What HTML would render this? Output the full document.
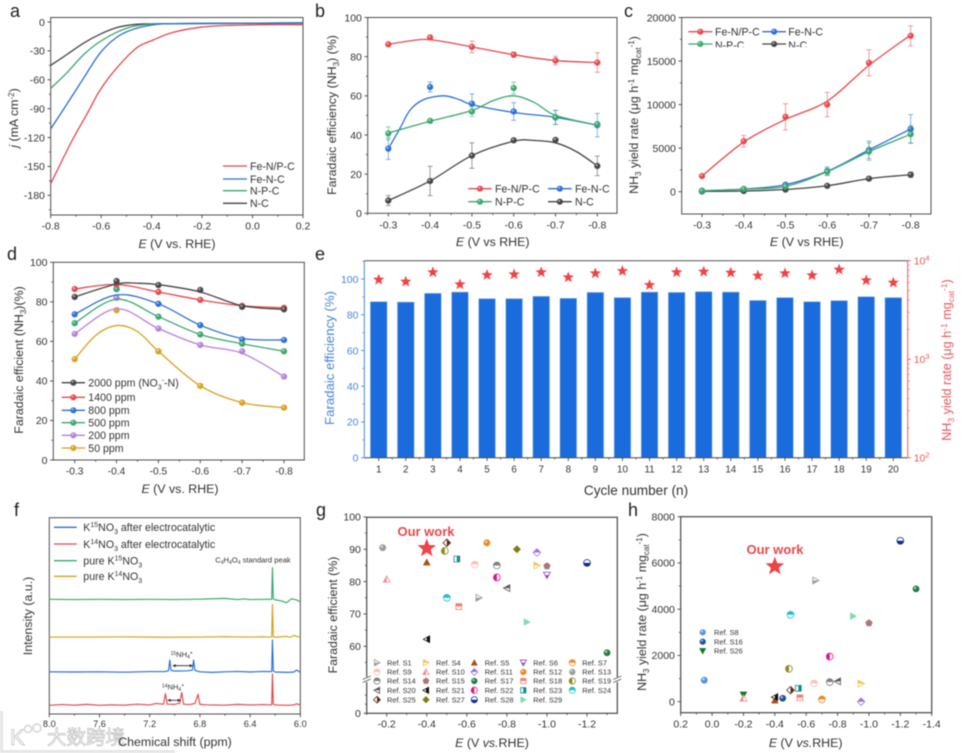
<!DOCTYPE html>
<html lang="en">
<head>
<meta charset="utf-8">
<title>Electrocatalytic nitrate reduction figure</title>
<style>
html,body{margin:0;padding:0;background:#fff;width:963px;height:753px;overflow:hidden}
#figure{display:block;filter:blur(0.55px);font-family:"Liberation Sans","Noto Sans CJK SC",sans-serif}
.letter{font-size:18px;fill:#222}
.ax{font-size:12.4px;fill:#333}
.leg{font-size:10.6px;fill:#333}
.c{text-anchor:middle}
</style>
</head>
<body>
<svg id="figure" xmlns="http://www.w3.org/2000/svg" width="963" height="753" viewBox="0 0 963 753">
  <rect x="0" y="0" width="963" height="753" fill="#fff"/>
  <g id="plots"></g>

  <g>
    <rect x="0" y="711" width="3" height="42" fill="#e6e6e6"/>
    <rect x="0" y="750" width="175" height="3" fill="#e6e6e6"/>
    <text x="10" y="745" font-size="22" fill="#fff" stroke="#c4c4c4" stroke-width="0.8">K</text>
    <circle cx="28" cy="729" r="3.5" fill="none" stroke="#d4d4d4" stroke-width="1.4"/>
    <circle cx="37" cy="728" r="4" fill="none" stroke="#d4d4d4" stroke-width="1.4"/>
    <text x="47" y="744" font-size="19.5" fill="#fff" stroke="#bdbdbd" stroke-width="0.7" font-family="'Noto Sans CJK SC',sans-serif">大数跨境</text>
  </g>

  <g>
    <text class="letter" x="10" y="17">a</text>
    <text class="letter" x="315" y="17">b</text>
    <text class="letter" x="624" y="17">c</text>
    <text class="letter" x="7" y="260">d</text>
    <text class="letter" x="315" y="260">e</text>
    <text class="letter" x="14" y="516">f</text>
    <text class="letter" x="316" y="516">g</text>
    <text class="letter" x="628" y="516">h</text>
  </g>

  <g>
    <text class="ax c" x="177" y="248"><tspan font-style="italic">E</tspan> (V vs. RHE)</text>
    <text class="ax c" transform="translate(18,118) rotate(-90)"><tspan font-style="italic">j</tspan> (mA cm<tspan dy="-4" font-size="8">-2</tspan><tspan dy="4">)</tspan></text>
    <text class="ax c" x="492.7" y="246"><tspan font-style="italic">E</tspan> (V vs RHE)</text>
    <text class="ax c" transform="translate(336,115) rotate(-90)">Faradaic efficiency (NH<tspan dy="3" font-size="8">3</tspan><tspan dy="-3">) (%)</tspan></text>
    <text class="ax c" x="806.7" y="246"><tspan font-style="italic">E</tspan> (V vs RHE)</text>
    <text class="ax c" transform="translate(638,115) rotate(-90)">NH<tspan dy="3" font-size="8">3</tspan><tspan dy="-3"> yield rate (μg h</tspan><tspan dy="-4" font-size="8">-1</tspan><tspan dy="4"> mg</tspan><tspan dy="3" font-size="8">cat</tspan><tspan dy="-7" font-size="8">-1</tspan><tspan dy="4">)</tspan></text>
    <text class="ax c" x="180" y="493"><tspan font-style="italic">E</tspan> (V vs. RHE)</text>
    <text class="ax c" transform="translate(23,360) rotate(-90)">Faradaic efficient (NH<tspan dy="3" font-size="8">3</tspan><tspan dy="-3">)(%)</tspan></text>
    <text class="c" font-size="13.6" fill="#333" x="636" y="495">Cycle number (n)</text>
    <text class="c" font-size="13.2" fill="#4a86d8" transform="translate(334,358) rotate(-90)">Faradaic efficiency (%)</text>
    <text class="c" font-size="12.6" fill="#e8585c" transform="translate(951,360) rotate(-90)">NH<tspan dy="3" font-size="8.5">3</tspan><tspan dy="-3"> yield rate (μg h</tspan><tspan dy="-4" font-size="8.5">-1</tspan><tspan dy="4"> mg</tspan><tspan dy="3" font-size="8.5">cat</tspan><tspan dy="-7" font-size="8.5">-1</tspan><tspan dy="4">)</tspan></text>
    <text class="ax c" transform="translate(32,616) rotate(-90)" font-size="12">Intensity (a.u.)</text>
    <text class="ax c" x="175" y="746">Chemical shift (ppm)</text>
    <text class="ax c" font-size="12" transform="translate(337,615) rotate(-90)">Faradaic efficient (%)</text>
    <text class="ax c" x="492" y="747"><tspan font-style="italic">E</tspan> (V <tspan font-style="italic">vs.</tspan>RHE)</text>
    <text class="ax c" font-size="11.6" transform="translate(646,612) rotate(-90)">NH<tspan dy="3" font-size="8">3</tspan><tspan dy="-3"> yield rate (μg h</tspan><tspan dy="-4" font-size="8">-1</tspan><tspan dy="4"> mg</tspan><tspan dy="3" font-size="8">cat</tspan><tspan dy="-7" font-size="8">-1</tspan><tspan dy="4">)</tspan></text>
    <text class="ax c" x="805.7" y="747"><tspan font-style="italic">E</tspan> (V <tspan font-style="italic">vs.</tspan>RHE)</text>
  </g>

  <g>
    <text class="leg" x="250" y="170">Fe-N/P-C</text>
    <text class="leg" x="250" y="183">Fe-N-C</text>
    <text class="leg" x="250" y="194.5">N-P-C</text>
    <text class="leg" x="250" y="207">N-C</text>

    <text class="leg" x="495" y="192.5">Fe-N/P-C</text>
    <text class="leg" x="575" y="192.5">Fe-N-C</text>
    <text class="leg" x="495" y="205.5">N-P-C</text>
    <text class="leg" x="575" y="205.5">N-C</text>

    <text class="leg" x="715" y="35.5">Fe-N/P-C</text>
    <text class="leg" x="788.3" y="35.5">Fe-N-C</text>
    <text class="leg" x="715" y="49">N-P-C</text>
    <text class="leg" x="788.3" y="49">N-C</text>
    <rect x="684" y="47.3" width="150" height="6" fill="#fff"/>

    <text class="leg" font-size="10.4" x="88.3" y="386.5">2000 ppm (NO<tspan dy="3" font-size="7">3</tspan><tspan dy="-7" font-size="7">-</tspan><tspan dy="4">-N)</tspan></text>
    <text class="leg" x="88.3" y="401">1400 ppm</text>
    <text class="leg" x="88.3" y="414">800 ppm</text>
    <text class="leg" x="88.3" y="426.5">500 ppm</text>
    <text class="leg" x="88.3" y="439">200 ppm</text>
    <text class="leg" x="88.3" y="452">50 ppm</text>

    <text class="leg" x="83.3" y="531">K<tspan dy="-4" font-size="7">15</tspan><tspan dy="4">NO</tspan><tspan dy="3" font-size="7">3</tspan><tspan dy="-3"> after electrocatalytic</tspan></text>
    <text class="leg" x="83.3" y="548">K<tspan dy="-4" font-size="7">14</tspan><tspan dy="4">NO</tspan><tspan dy="3" font-size="7">3</tspan><tspan dy="-3"> after electrocatalytic</tspan></text>
    <text class="leg" x="83.3" y="564.5">pure K<tspan dy="-4" font-size="7">15</tspan><tspan dy="4">NO</tspan><tspan dy="3" font-size="7">3</tspan></text>
    <text class="leg" x="83.3" y="580">pure K<tspan dy="-4" font-size="7">14</tspan><tspan dy="4">NO</tspan><tspan dy="3" font-size="7">3</tspan></text>
    <text class="c" font-size="7.6" fill="#333" x="253" y="562.5">C<tspan dy="1.5" font-size="5">4</tspan><tspan dy="-1.5">H</tspan><tspan dy="1.5" font-size="5">4</tspan><tspan dy="-1.5">O</tspan><tspan dy="1.5" font-size="5">4</tspan><tspan dy="-1.5"> standard peak</tspan></text>
    <text class="c" font-size="7.6" fill="#333" x="181.7" y="657"><tspan dy="-2" font-size="5">15</tspan><tspan dy="2">NH</tspan><tspan dy="1.5" font-size="5">4</tspan><tspan dy="-4" font-size="5">+</tspan></text>
    <text class="c" font-size="7.6" fill="#333" x="173" y="689.5"><tspan dy="-2" font-size="5">14</tspan><tspan dy="2">NH</tspan><tspan dy="1.5" font-size="5">4</tspan><tspan dy="-4" font-size="5">+</tspan></text>

    <text x="426" y="536" font-size="13" font-weight="bold" fill="#e8474c" class="c">Our work</text>
    <text x="775" y="554" font-size="13" font-weight="bold" fill="#e8474c" class="c">Our work</text>
  </g>
</svg>

<script>
/* ---------- panel a: LSV curves ---------- */
const aTicksX = [-0.8, -0.6, -0.4, -0.2, 0.0, 0.2];
const aTicksY = [0, -30, -60, -90, -120, -150, -180];
const aRedE = [-0.8, -0.717, -0.655, -0.605, -0.539, -0.46, -0.394, -0.314, -0.209, -0.1, 0.055, 0.2];
const aRedJ = [-168, -124, -95, -71, -48, -27, -18.7, -10.7, -5.5, -3.5, -2.8, -2.8];
const aBlueE = [-0.8, -0.74, -0.67, -0.605, -0.539, -0.473, -0.394, -0.314, -0.08, 0.2];
const aBlueJ = [-111, -87, -58.5, -32.5, -16, -7.6, -3, -1.7, -1.4, -1];
const aGreenE = [-0.8, -0.737, -0.67, -0.605, -0.539, -0.473, -0.407, -0.314, 0.2];
const aGreenJ = [-69, -53, -34, -20.4, -10.7, -4.5, -2.4, -1.7, -1];
const aBlackE = [-0.8, -0.737, -0.67, -0.605, -0.539, -0.486, -0.433, -0.314, 0.2];
const aBlackJ = [-45, -34, -22, -12.8, -5.9, -3.1, -2, -1.7, -1];

/* ---------- shared potentials ---------- */
const potentials = [-0.3, -0.4, -0.5, -0.6, -0.7, -0.8];
const potentialLabels = ['-0.3', '-0.4', '-0.5', '-0.6', '-0.7', '-0.8'];

/* ---------- panel b: Faradaic efficiency ---------- */
const bTicksY = [0, 20, 40, 60, 80, 100];
const bFeNPC = [86.3, 89.8, 85, 81, 78, 77];
const bFeNPCErr = [0.8, 1, 3, 1.3, 2.2, 5];
const bFeNPCFitE = [-0.3, -0.35, -0.4, -0.5, -0.6, -0.7, -0.8];
const bFeNPCFit = [86.3, 88, 88.7, 85, 81, 78, 77];
const bFeNC = [33, 64.5, 56, 52, 49, 45];
const bFeNCErr = [5.5, 2.5, 5, 4.5, 3.5, 6];
const bFeNCFitE = [-0.3, -0.328, -0.352, -0.384, -0.432, -0.471, -0.5, -0.6, -0.7, -0.8];
const bFeNCFit = [33, 43.4, 52.7, 58, 60, 58, 55.5, 51.5, 49, 45];
const bNPC = [40.8, 47.2, 52, 64, 49, 45.5];
const bNPCErr = [3.3, 1, 2.5, 3, 3.7, 1];
const bNPCFitE = [-0.3, -0.4, -0.5, -0.55, -0.6, -0.65, -0.7, -0.8];
const bNPCFit = [41, 47, 52.5, 57.5, 60, 56.5, 50, 45];
const bNC = [6.5, 16.5, 29.5, 37.3, 37.5, 24.2];
const bNCErr = [2.5, 7.5, 6.5, 0.5, 0.5, 5];
const bNCFitE = [-0.3, -0.4, -0.5, -0.6, -0.65, -0.7, -0.75, -0.8];
const bNCFit = [6.5, 16.5, 29.5, 36.8, 37.2, 36, 31.5, 24.2];

/* ---------- panel c: yield rate ---------- */
const cTicksY = [0, 5000, 10000, 15000, 20000];
const cFeNPC = [1800, 5800, 8600, 10000, 14800, 17900];
const cFeNPCErr = [150, 650, 1500, 1400, 1500, 1150];
const cFeNPCFit = [1800, 5700, 8300, 10400, 14500, 18000];
const cFeNC = [100, 300, 800, 2350, 4800, 7200];
const cFeNCErr = [80, 100, 120, 500, 1000, 1650];
const cNPC = [100, 300, 600, 2300, 4600, 6600];
const cNPCErr = [80, 100, 120, 400, 1000, 1000];
const cNC = [30, 80, 250, 680, 1500, 1950];
const cNCErr = [60, 80, 100, 100, 150, 300];

/* ---------- panel d: concentration series ---------- */
const dTicksY = [0, 20, 40, 60, 80, 100];
const d2000 = [82.5, 90.5, 88.5, 86, 77.5, 76.2];
const d2000FitE = [-0.3, -0.4, -0.45, -0.5, -0.6, -0.7, -0.8];
const d2000Fit = [82.5, 89, 89.4, 88.7, 85, 78, 76.2];
const d1400 = [86.5, 88.8, 85, 81, 78, 77];
const d1400Fit = [86.5, 88.8, 85, 81, 78, 77];
const d800 = [73.7, 86.5, 79, 68.2, 61, 60.7];
const d800Fit = [73.7, 83.5, 79, 68.2, 61.5, 60.7];
const d500 = [69.2, 86.5, 72.5, 63.5, 58.8, 55];
const d500Fit = [69.2, 81.3, 72.5, 63.5, 58.8, 55];
const d200 = [63.8, 82, 66.5, 58.2, 55, 42.2];
const d200Fit = [63.8, 76.5, 66.5, 58.2, 54, 42.2];
const d50 = [51, 75.8, 55, 37.5, 29, 26.5];
const d50FitE = [-0.3, -0.35, -0.4, -0.45, -0.5, -0.6, -0.7, -0.8];
const d50Fit = [51, 63, 68, 65, 55, 37.5, 29, 26.5];

/* ---------- panel e: cycling ---------- */
const eCycles = [1, 2, 3, 4, 5, 6, 7, 8, 9, 10, 11, 12, 13, 14, 15, 16, 17, 18, 19, 20];
const eEfficiency = [87.3, 87.1, 92, 92.7, 89, 89, 90.3, 89.2, 92.5, 89.6, 92.7, 92.5, 92.9, 92.7, 88, 89.6, 87.3, 87.9, 90.1, 89.6];
const eYield = [6410, 6120, 7620, 5750, 7150, 7265, 7620, 6775, 7435, 7855, 5660, 7620, 7730, 7550, 7045, 7435, 7100, 8110, 6310, 5980];
const eTicksLeft = [0, 20, 40, 60, 80, 100];
const eTicksRight = [100, 1000, 10000];
const eExponentLabels = ['2', '3', '4'];

/* ---------- panel f: NMR spectra ---------- */
const fTicksX = [8.0, 7.6, 7.2, 6.8, 6.4, 6.0];
const fGreenPpm = [8, 7.8, 7.6, 7.4, 7.2, 7, 6.8, 6.6, 6.5, 6.45, 6.4, 6.3, 6.24, 6.228, 6.222, 6.215, 6.2, 6.15, 6.11, 6.07, 6.03, 6];
const fGreenVal = [58.4, 58.3, 58.4, 58.3, 58.4, 58.3, 58.5, 58.9, 58.3, 58.6, 58.3, 58.4, 58.4, 58.4, 74.5, 58.6, 58.2, 57.6, 56.7, 58.7, 58.1, 57.2];
const fGoldPpm = [8, 7.7, 7.4, 7.1, 6.8, 6.6, 6.4, 6.3, 6.24, 6.228, 6.222, 6.215, 6.2, 6.11, 6.08, 6.05, 6.02, 6];
const fGoldVal = [39.2, 39.2, 39.3, 39.1, 39.2, 39.4, 39.2, 39.3, 39.2, 39.3, 55.9, 39.4, 39.1, 39.6, 39.1, 40, 39.4, 39.2];
const fBluePpm = [8, 7.8, 7.6, 7.4, 7.2, 7.08, 7.05, 7.04, 7.03, 7, 6.9, 6.86, 6.85, 6.84, 6.8, 6.7, 6.6, 6.5, 6.4, 6.3, 6.24, 6.228, 6.222, 6.215, 6.2, 6.1, 6.05, 6.03, 6];
const fBlueVal = [21.5, 21.4, 21.5, 21.3, 21.6, 21.6, 22, 27.5, 22.2, 21.9, 22, 22.4, 27.5, 22.2, 21.5, 21.2, 21.5, 21.7, 21.4, 21.7, 21.6, 21.6, 37.7, 21.9, 21.4, 21.2, 21.4, 22.4, 21.2];
const fRedPpm = [8, 7.9, 7.8, 7.7, 7.6, 7.5, 7.4, 7.3, 7.2, 7.15, 7.09, 7.075, 7.06, 7, 6.96, 6.945, 6.93, 6.88, 6.84, 6.815, 6.8, 6.75, 6.6, 6.5, 6.4, 6.3, 6.24, 6.228, 6.222, 6.215, 6.2, 6.1, 6.05, 6.03, 6];
const fRedVal = [4.4, 4.8, 4.5, 4.9, 4.4, 4.7, 4.5, 5, 4.6, 5.4, 5, 10.4, 5, 4.9, 5.6, 11, 5, 4.8, 5.4, 10, 4.9, 4.7, 4.5, 4.9, 4.6, 4.8, 4.7, 4.7, 20.4, 5, 4.6, 4.4, 4.6, 5.2, 4.6];

/* ---------- panels g / h: literature comparison ---------- */
const refLabels = {S1:'Ref. S1',S4:'Ref. S4',S5:'Ref. S5',S6:'Ref. S6',S7:'Ref. S7',S8:'Ref. S8',S9:'Ref. S9',S10:'Ref. S10',S11:'Ref. S11',S12:'Ref. S12',S13:'Ref. S13',S14:'Ref. S14',S15:'Ref. S15',S16:'Ref. S16',S17:'Ref. S17',S18:'Ref. S18',S19:'Ref. S19',S20:'Ref. S20',S21:'Ref. S21',S22:'Ref. S22',S23:'Ref. S23',S24:'Ref. S24',S25:'Ref. S25',S26:'Ref. S26',S27:'Ref. S27',S28:'Ref. S28',S29:'Ref. S29'};
const gLegendOrder = ['S1','S4','S5','S6','S7','S9','S10','S11','S12','S13','S14','S15','S17','S18','S19','S20','S21','S22','S23','S24','S25','S27','S28','S29'];
const hLegendOrder = ['S8','S16','S26'];
const gRefs = ['S1','S4','S5','S6','S9','S10','S11','S12','S13','S14','S15','S17','S18','S19','S20','S21','S22','S23','S24','S25','S27','S28','S29'];
const gE = [-0.66,-0.95,-0.4,-1.0,-0.64,-0.2,-0.95,-0.7,-0.18,-0.75,-1.0,-1.3,-0.56,-0.49,-0.8,-0.4,-0.75,-0.55,-0.5,-0.5,-0.85,-1.2,-0.9];
const gFE = [75,85,86,82,85.3,80.7,89,92,90.5,85,84.8,58,72.3,89.5,78,62.2,81.3,87,75,92,90,85.8,67.5];
const gOurE = -0.4;
const gOurFE = 90.3;
const gTicksY = [0, 60, 70, 80, 90, 100];
const gTicksX = [-0.2, -0.4, -0.6, -0.8, -1.0, -1.2];
const hRefs = ['S8','S16','S26','S10','S5','S21','S25','S23','S18','S9','S7','S14','S20','S4','S11','S19','S22','S24','S29','S15','S1','S17','S28'];
const hE = [0.05,-0.45,-0.2,-0.2,-0.4,-0.4,-0.5,-0.55,-0.56,-0.65,-0.7,-0.75,-0.8,-0.95,-0.95,-0.49,-0.75,-0.5,-0.9,-1.0,-0.66,-1.3,-1.2];
const hRate = [930,150,300,150,60,200,500,580,170,790,100,850,880,780,0,1420,1950,3760,3700,3400,5240,4880,6960];
const hOurE = -0.4;
const hOurRate = 5850;
const hTicksY = [0, 2000, 4000, 6000, 8000];
const hTicksX = [0.2, 0.0, -0.2, -0.4, -0.6, -0.8, -1.0, -1.2, -1.4];

/* ---------- colours and marker styles ---------- */
const RED = '#e4484c', BLUE = '#2a6fd4', GREEN = '#3aa76d', BLACK = '#454545', PURPLE = '#b57fe0', GOLD = '#d9a01e';
const refStyle = {
  S1:['right','bottom','#9a9a9a'],S4:['right','top','#f2c14e'],S5:['up','full','#a8520f'],S6:['down','bottom','#8a3fc0'],
  S7:['circle','top','#f08a24'],S8:['ball','full','#4f93e8'],S9:['circle','top','#f7c4b8'],S10:['up','left','#f08d8d'],
  S11:['diamond','top','#a56fd8'],S12:['ball','full','#f0851a'],S13:['ball','full','#9a9a9a'],S14:['circle','top','#808080'],
  S15:['pentagon','full','#a9787c'],S16:['ball','full','#1c4f9c'],S17:['ball','full','#1f7a45'],S18:['square','top','#f08070'],
  S19:['circle','left','#8f8a1e'],S20:['left','top','#555555'],S21:['left','right','#111111'],S22:['circle','left','#e3128a'],
  S23:['square','right','#128a8a'],S24:['circle','top','#18c0d0'],S25:['diamond','right','#5a2a1a'],S26:['down','full','#0d7a24'],
  S27:['diamond','full','#7d7d10'],S28:['circle','bottom','#0e2f8a'],S29:['right','full','#7fdcae']
};

/* ---------- helpers ---------- */
const NS = 'http://www.w3.org/2000/svg';
const root = document.getElementById('plots');
function mk(parent, tag, attrs, name) {
  const el = document.createElementNS(NS, tag);
  for (const k in attrs) el.setAttribute(k, attrs[k]);
  
  
  parent.appendChild(el);
  return el;
}
function lin(d0, d1, r0, r1) { return v => r0 + (v - d0) * (r1 - r0) / (d1 - d0); }
function smooth(xs, ys) {
  let d = 'M' + xs[0].toFixed(2) + ' ' + ys[0].toFixed(2);
  for (let i = 0; i < xs.length - 1; i++) {
    const i0 = Math.max(0, i - 1), i3 = Math.min(xs.length - 1, i + 2);
    const c1x = xs[i] + (xs[i + 1] - xs[i0]) / 6, c1y = ys[i] + (ys[i + 1] - ys[i0]) / 6;
    const c2x = xs[i + 1] - (xs[i3] - xs[i]) / 6, c2y = ys[i + 1] - (ys[i3] - ys[i]) / 6;
    d += 'C' + [c1x, c1y, c2x, c2y, xs[i + 1], ys[i + 1]].map(n => n.toFixed(2)).join(' ');
  }
  return d;
}
function poly(xs, ys) { return 'M' + xs.map((x, i) => x.toFixed(2) + ' ' + ys[i].toFixed(2)).join('L'); }
function line(g, x1, y1, x2, y2, stroke, w, name) {
  return mk(g, 'line', {x1: x1, y1: y1, x2: x2, y2: y2, stroke: stroke, 'stroke-width': w}, name);
}
function label(g, x, y, str, anchor, size, fill, name) {
  const t = mk(g, 'text', {x: x, y: y, 'text-anchor': anchor, 'font-size': size, fill: fill}, name);
  t.textContent = str;
  return t;
}
function frame(g, f, name, color, w) {
  mk(g, 'rect', {x: f.l, y: f.t, width: f.r - f.l, height: f.b - f.t, fill: 'none', stroke: color || '#4d4d4d', 'stroke-width': w || 1}, name);
}
function xTicks(g, f, sx, vals, labels, minors, base, size, prefix) {
  vals.forEach((v, i) => {
    line(g, sx(v), f.b, sx(v), f.b + 3.2, '#444', 0.9, prefix + '-x-tick');
    label(g, sx(v), base, labels[i], 'middle', size, '#333', prefix + '-x-tick-label');
  });
  minors.forEach(v => line(g, sx(v), f.b, sx(v), f.b + 1.8, '#444', 0.8, prefix + '-x-minor-tick'));
}
function yTicks(g, f, sy, vals, labels, minors, size, prefix, color) {
  const c = color || '#333';
  vals.forEach((v, i) => {
    line(g, f.l - 3.2, sy(v), f.l, sy(v), color || '#444', 0.9, prefix + '-y-tick');
    label(g, f.l - 5.8, sy(v) + size * 0.36, labels[i], 'end', size, c, prefix + '-y-tick-label');
  });
  minors.forEach(v => line(g, f.l - 1.8, sy(v), f.l, sy(v), color || '#444', 0.8, prefix + '-y-minor-tick'));
}
function ball(g, x, y, r, color, name) {
  const b = mk(g, 'g', {}, name);
  mk(b, 'circle', {cx: x, cy: y, r: r, fill: color, stroke: color, 'stroke-opacity': 0.55, 'stroke-width': 0.8}, name + '-body');
  mk(b, 'circle', {cx: x - r * 0.25, cy: y - r * 0.3, r: r * 0.38, fill: '#fff', 'fill-opacity': 0.55}, name + '-highlight');
  return b;
}
function seriesPlot(g, sx, sy, prefix, color, E, vals, errs, fitE, fitVals) {
  const grp = mk(g, 'g', {}, prefix + '-series');
  mk(grp, 'path', {d: smooth(fitE.map(sx), fitVals.map(sy)), fill: 'none', stroke: color, 'stroke-width': 1.3}, prefix + '-line');
  E.forEach((e, i) => {
    const x = sx(e);
    if (errs) {
      const y0 = sy(vals[i] - errs[i]), y1 = sy(vals[i] + errs[i]);
      line(grp, x, y0, x, y1, color, 0.8, prefix + '-error-bar').setAttribute('stroke-opacity', 0.65);
      line(grp, x - 2.5, y0, x + 2.5, y0, color, 0.8, prefix + '-error-cap').setAttribute('stroke-opacity', 0.65);
      line(grp, x - 2.5, y1, x + 2.5, y1, color, 0.8, prefix + '-error-cap').setAttribute('stroke-opacity', 0.65);
    }
    ball(grp, x, sy(vals[i]), 2.9, color, prefix + '-point');
  });
}
function legendKey(g, x0, x1, y, color, withBall, name) {
  line(g, x0, y, x1, y, color, 1.3, name + '-line');
  if (withBall) ball(g, (x0 + x1) / 2, y, 2.8, color, name + '-marker');
}
function starPath(r) {
  let d = '';
  for (let i = 0; i < 10; i++) {
    const a = -Math.PI / 2 + i * Math.PI / 5, rr = i % 2 ? r * 0.42 : r;
    d += (i ? 'L' : 'M') + (rr * Math.cos(a)).toFixed(2) + ' ' + (rr * Math.sin(a)).toFixed(2);
  }
  return d + 'Z';
}
function star(g, x, y, r, name) {
  return mk(g, 'path', {d: starPath(r), transform: 'translate(' + x + ',' + y + ')', fill: '#ee4347'}, name);
}
function shapePath(type, r) {
  const p = (pts) => 'M' + pts.map(q => q[0].toFixed(2) + ' ' + q[1].toFixed(2)).join('L') + 'Z';
  if (type === 'right') return p([[-r * 0.85, -r], [r, 0], [-r * 0.85, r]]);
  if (type === 'left') return p([[r * 0.85, -r], [-r, 0], [r * 0.85, r]]);
  if (type === 'up') return p([[0, -r], [r, r * 0.85], [-r, r * 0.85]]);
  if (type === 'down') return p([[0, r], [r, -r * 0.85], [-r, -r * 0.85]]);
  if (type === 'diamond') return p([[0, -r * 1.1], [r * 1.1, 0], [0, r * 1.1], [-r * 1.1, 0]]);
  if (type === 'square') return p([[-r * 0.85, -r * 0.85], [r * 0.85, -r * 0.85], [r * 0.85, r * 0.85], [-r * 0.85, r * 0.85]]);
  if (type === 'pentagon') {
    const pts = [];
    for (let i = 0; i < 5; i++) pts.push([r * 1.05 * Math.cos(-Math.PI / 2 + i * 2 * Math.PI / 5), r * 1.05 * Math.sin(-Math.PI / 2 + i * 2 * Math.PI / 5)]);
    return p(pts);
  }
  return 'M' + (-r) + ' 0A' + r + ' ' + r + ' 0 1 1 ' + r + ' 0A' + r + ' ' + r + ' 0 1 1 ' + (-r) + ' 0Z';
}
const defs = mk(root, 'defs', {}, 'half-fill-clips');
const clipRects = {top: [-10, -10, 20, 10], bottom: [-10, 0, 20, 10], left: [-10, -10, 10, 20], right: [0, -10, 10, 20]};
for (const k in clipRects) {
  const cp = mk(defs, 'clipPath', {id: 'half-' + k}, 'half-clip-' + k);
  const c = clipRects[k];
  mk(cp, 'rect', {x: c[0], y: c[1], width: c[2], height: c[3]}, 'half-clip-rect');
}
function refMarker(g, id, x, y, r, name) {
  const st = refStyle[id];
  const m = mk(g, 'g', {transform: 'translate(' + x.toFixed(2) + ',' + y.toFixed(2) + ')'}, name);
  if (st[0] === 'ball') {
    mk(m, 'circle', {cx: 0, cy: 0, r: r, fill: st[2]}, name + '-body');
    mk(m, 'circle', {cx: -r * 0.25, cy: -r * 0.3, r: r * 0.4, fill: '#fff', 'fill-opacity': 0.55}, name + '-highlight');
    return m;
  }
  const d = shapePath(st[0], r);
  if (st[1] === 'full') {
    mk(m, 'path', {d: d, fill: st[2], stroke: st[2], 'stroke-width': 0.5}, name + '-body');
  } else {
    mk(m, 'path', {d: d, fill: '#fff', stroke: st[2], 'stroke-width': 0.8}, name + '-outline');
    mk(m, 'path', {d: d, fill: st[2], 'clip-path': 'url(#half-' + st[1] + ')'}, name + '-fill');
  }
  return m;
}

/* ---------- panel a ---------- */
(function () {
  const g = mk(root, 'g', {}, 'panel-a');
  const f = {l: 50.7, r: 303, t: 17.5, b: 215};
  const sx = lin(-0.8, 0.2, 50.7, 303), sy = lin(0, -180, 22, 195.3);
  frame(g, f, 'panel-a-frame');
  xTicks(g, f, sx, aTicksX, aTicksX.map(v => v.toFixed(1)), [-0.7, -0.5, -0.3, -0.1, 0.1], 229.5, 10.5, 'panel-a');
  yTicks(g, f, sy, aTicksY, aTicksY.map(String), [-15, -45, -75, -105, -135, -165, -195], 10.5, 'panel-a');
  [[aBlackE, aBlackJ, BLACK, 'n-c'], [aGreenE, aGreenJ, GREEN, 'n-p-c'], [aBlueE, aBlueJ, BLUE, 'fe-n-c'], [aRedE, aRedJ, RED, 'fe-n-p-c']].forEach(s => {
    mk(g, 'path', {d: smooth(s[0].map(sx), s[1].map(sy)), fill: 'none', stroke: s[2], 'stroke-width': 1.3}, 'panel-a-curve-' + s[3]);
  });
  legendKey(g, 223, 247, 166, RED, false, 'panel-a-legend-fe-n-p-c-key');
  legendKey(g, 223, 247, 179, BLUE, false, 'panel-a-legend-fe-n-c-key');
  legendKey(g, 223, 247, 190.7, GREEN, false, 'panel-a-legend-n-p-c-key');
  legendKey(g, 223, 247, 203.3, BLACK, false, 'panel-a-legend-n-c-key');
})();

/* ---------- panel b ---------- */
(function () {
  const g = mk(root, 'g', {}, 'panel-b');
  const f = {l: 367.7, r: 617, t: 17.5, b: 213.3};
  const sx = lin(-0.3, -0.8, 388.3, 597.3), sy = lin(0, 100, 213.3, 17.5);
  frame(g, f, 'panel-b-frame');
  xTicks(g, f, sx, potentials, potentialLabels, [-0.25, -0.35, -0.45, -0.55, -0.65, -0.75, -0.85].filter(v => sx(v) <= f.r), 228.5, 10.5, 'panel-b');
  yTicks(g, f, sy, bTicksY, bTicksY.map(String), [10, 30, 50, 70, 90], 10.5, 'panel-b');
  seriesPlot(g, sx, sy, 'panel-b-n-c', BLACK, potentials, bNC, bNCErr, bNCFitE, bNCFit);
  seriesPlot(g, sx, sy, 'panel-b-fe-n-c', BLUE, potentials, bFeNC, bFeNCErr, bFeNCFitE, bFeNCFit);
  seriesPlot(g, sx, sy, 'panel-b-n-p-c', GREEN, potentials, bNPC, bNPCErr, bNPCFitE, bNPCFit);
  seriesPlot(g, sx, sy, 'panel-b-fe-n-p-c', RED, potentials, bFeNPC, bFeNPCErr, bFeNPCFitE, bFeNPCFit);
  legendKey(g, 468.3, 491.7, 188.7, RED, true, 'panel-b-legend-fe-n-p-c-key');
  legendKey(g, 548, 571.7, 188.7, BLUE, true, 'panel-b-legend-fe-n-c-key');
  legendKey(g, 468.3, 491.7, 201.7, GREEN, true, 'panel-b-legend-n-p-c-key');
  legendKey(g, 548, 571.7, 201.7, BLACK, true, 'panel-b-legend-n-c-key');
})();

/* ---------- panel c ---------- */
(function () {
  const g = mk(root, 'g', {}, 'panel-c');
  const f = {l: 681.7, r: 931, t: 17.5, b: 214};
  const sx = lin(-0.3, -0.8, 702, 910.7), sy = lin(0, 20000, 191.7, 17.5);
  frame(g, f, 'panel-c-frame');
  xTicks(g, f, sx, potentials, potentialLabels, [-0.35, -0.45, -0.55, -0.65, -0.75], 228.5, 10.5, 'panel-c');
  yTicks(g, f, sy, cTicksY, cTicksY.map(String), [2500, 7500, 12500, 17500], 10.5, 'panel-c');
  seriesPlot(g, sx, sy, 'panel-c-n-c', BLACK, potentials, cNC, cNCErr, potentials, cNC);
  seriesPlot(g, sx, sy, 'panel-c-fe-n-c', BLUE, potentials, cFeNC, cFeNCErr, potentials, cFeNC);
  seriesPlot(g, sx, sy, 'panel-c-n-p-c', GREEN, potentials, cNPC, cNPCErr, potentials, cNPC);
  seriesPlot(g, sx, sy, 'panel-c-fe-n-p-c', RED, potentials, cFeNPC, cFeNPCErr, potentials, cFeNPCFit);
  legendKey(g, 688.3, 712.3, 31.7, RED, true, 'panel-c-legend-fe-n-p-c-key');
  legendKey(g, 762.3, 786, 31.7, BLUE, true, 'panel-c-legend-fe-n-c-key');
  legendKey(g, 688.3, 712.3, 44, GREEN, true, 'panel-c-legend-n-p-c-key');
  legendKey(g, 762.3, 786, 44, BLACK, true, 'panel-c-legend-n-c-key');
})();

/* ---------- panel d ---------- */
(function () {
  const g = mk(root, 'g', {}, 'panel-d');
  const f = {l: 53.3, r: 304.3, t: 262.3, b: 460};
  const sx = lin(-0.3, -0.8, 74.7, 284), sy = lin(0, 100, 460, 262.3);
  frame(g, f, 'panel-d-frame');
  xTicks(g, f, sx, potentials, potentialLabels, [-0.35, -0.45, -0.55, -0.65, -0.75], 474.5, 10.2, 'panel-d');
  yTicks(g, f, sy, dTicksY, dTicksY.map(String), [10, 30, 50, 70, 90], 10.5, 'panel-d');
  seriesPlot(g, sx, sy, 'panel-d-50-ppm', GOLD, potentials, d50, null, d50FitE, d50Fit);
  seriesPlot(g, sx, sy, 'panel-d-200-ppm', PURPLE, potentials, d200, null, potentials, d200Fit);
  seriesPlot(g, sx, sy, 'panel-d-800-ppm', BLUE, potentials, d800, null, potentials, d800Fit);
  seriesPlot(g, sx, sy, 'panel-d-500-ppm', GREEN, potentials, d500, null, potentials, d500Fit);
  seriesPlot(g, sx, sy, 'panel-d-1400-ppm', RED, potentials, d1400, null, potentials, d1400Fit);
  seriesPlot(g, sx, sy, 'panel-d-2000-ppm', BLACK, potentials, d2000, null, d2000FitE, d2000Fit);
  legendKey(g, 61.7, 85, 382.7, BLACK, true, 'panel-d-legend-2000-key');
  legendKey(g, 61.7, 85, 397.3, RED, true, 'panel-d-legend-1400-key');
  legendKey(g, 61.7, 85, 410.3, BLUE, true, 'panel-d-legend-800-key');
  legendKey(g, 61.7, 85, 422.7, GREEN, true, 'panel-d-legend-500-key');
  legendKey(g, 61.7, 85, 435.3, PURPLE, true, 'panel-d-legend-200-key');
  legendKey(g, 61.7, 85, 448, GOLD, true, 'panel-d-legend-50-key');
})();

/* ---------- panel e ---------- */
(function () {
  const g = mk(root, 'g', {}, 'panel-e');
  const f = {l: 364.3, r: 907.7, t: 260.7, b: 457.7};
  const sx = lin(1, 20, 378.7, 893.3), syL = lin(0, 100, 457.7, 279);
  const syR = v => lin(2, 4, 457.7, 260.7)(Math.log10(v));
  const bw = 16.7;
  eCycles.forEach((c, i) => {
    mk(g, 'rect', {x: sx(c) - bw / 2, y: syL(eEfficiency[i]), width: bw, height: f.b - syL(eEfficiency[i]), fill: '#1a6bdb', stroke: '#9dbde6', 'stroke-width': 0.6}, 'panel-e-bar-cycle-' + c);
    star(g, sx(c), syR(eYield[i]), 6, 'panel-e-yield-star-cycle-' + c);
    line(g, sx(c), f.b, sx(c), f.b + 3.2, '#444', 0.9, 'panel-e-x-tick');
    label(g, sx(c), 472.7, String(c), 'middle', 9.8, '#333', 'panel-e-x-tick-label');
    if (i < eCycles.length - 1) line(g, sx(c + 0.5), f.b, sx(c + 0.5), f.b + 1.8, '#444', 0.8, 'panel-e-x-minor-tick');
  });
  line(g, f.l, f.t, f.r, f.t, '#555', 1, 'panel-e-top-axis');
  line(g, f.l, f.b, f.r, f.b, '#444', 1, 'panel-e-bottom-axis');
  line(g, f.l, f.t, f.l, f.b, '#4a86d8', 1, 'panel-e-left-axis');
  line(g, f.r, f.t, f.r, f.b, '#e8585c', 1, 'panel-e-right-axis');
  yTicks(g, f, syL, eTicksLeft, eTicksLeft.map(String), [10, 30, 50, 70, 90, 110], 10.5, 'panel-e-left', '#4a86d8');
  eTicksRight.forEach((v, i) => {
    line(g, f.r, syR(v), f.r + 3.2, syR(v), '#e8585c', 0.9, 'panel-e-right-tick');
    const t = label(g, f.r + 6, syR(v) + 4, '10', 'start', 10.5, '#e8585c', 'panel-e-right-tick-label');
    const sup = mk(t, 'tspan', {dy: -4, 'font-size': 7.5}, 'panel-e-right-tick-exponent');
    sup.textContent = eExponentLabels[i];
  });
  [2, 3, 4, 5, 6, 7, 8, 9].forEach(m => {
    line(g, f.r, syR(m * 100), f.r + 1.8, syR(m * 100), '#e8585c', 0.6, 'panel-e-right-minor-tick');
    line(g, f.r, syR(m * 1000), f.r + 1.8, syR(m * 1000), '#e8585c', 0.6, 'panel-e-right-minor-tick');
  });
})();

/* ---------- panel f ---------- */
(function () {
  const g = mk(root, 'g', {}, 'panel-f');
  const f = {l: 49.3, r: 300.3, t: 517.7, b: 714};
  const sx = lin(8, 6, 49.3, 300.3), sy = lin(0, 100, 714, 517.7);
  frame(g, f, 'panel-f-frame');
  xTicks(g, f, sx, fTicksX, fTicksX.map(v => v.toFixed(1)), [7.8, 7.4, 7.0, 6.6, 6.2], 727, 9.2, 'panel-f');
  const spectra = [[fGreenPpm, fGreenVal, GREEN, 'pure-k15'], [fGoldPpm, fGoldVal, GOLD, 'pure-k14'], [fBluePpm, fBlueVal, BLUE, 'k15-after'], [fRedPpm, fRedVal, RED, 'k14-after']];
  spectra.forEach(s => {
    mk(g, 'path', {d: poly(s[0].map(sx), s[1].map(sy)), fill: 'none', stroke: s[2], 'stroke-width': 1.15, 'stroke-linejoin': 'round'}, 'panel-f-spectrum-' + s[3]);
  });
  legendKey(g, 54, 76.7, 527.3, BLUE, false, 'panel-f-legend-k15-after-key');
  legendKey(g, 54, 76.7, 544, RED, false, 'panel-f-legend-k14-after-key');
  legendKey(g, 54, 76.7, 560.7, GREEN, false, 'panel-f-legend-pure-k15-key');
  legendKey(g, 54, 76.7, 576.3, GOLD, false, 'panel-f-legend-pure-k14-key');
  function arrow(x0, x1, y, name) {
    line(g, x0, y, x1, y, '#222', 0.8, name);
    mk(g, 'path', {d: 'M' + x0 + ' ' + y + 'l3 -1.6v3.2z', fill: '#222'}, name + '-left-head');
    mk(g, 'path', {d: 'M' + x1 + ' ' + y + 'l-3 -1.6v3.2z', fill: '#222'}, name + '-right-head');
  }
  arrow(172.7, 192.7, 665.7, 'panel-f-15nh4-splitting-arrow');
  arrow(167.7, 180.7, 700.3, 'panel-f-14nh4-splitting-arrow');
})();

/* ---------- panel g ---------- */
(function () {
  const g = mk(root, 'g', {}, 'panel-g');
  const f = {l: 366.7, r: 617.3, t: 517.3, b: 713.3};
  const sx = lin(-0.2, -1.2, 386.7, 587);
  const sy = v => v >= 50 ? lin(60, 90, 646.3, 549.3)(v) : lin(0, 50, 713.3, 683)(v);
  frame(g, f, 'panel-g-frame', '#555', 1.3);
  xTicks(g, f, sx, gTicksX, gTicksX.map(v => v.toFixed(1)), [-0.1, -0.3, -0.5, -0.7, -0.9, -1.1, -1.3], 727.3, 10.5, 'panel-g');
  yTicks(g, f, sy, gTicksY, gTicksY.map(String), [55, 65, 75, 85, 95, 15, 30], 10.5, 'panel-g');
  mk(g, 'rect', {x: f.l - 2, y: 677, width: 4, height: 5, fill: '#fff'}, 'panel-g-left-axis-gap');
  mk(g, 'rect', {x: f.r - 2, y: 677, width: 4, height: 5, fill: '#fff'}, 'panel-g-right-axis-gap');
  [f.l, f.r].forEach(x => {
    line(g, x - 4, 679.5, x + 4, 676, '#555', 0.9, 'panel-g-axis-break-mark');
    line(g, x - 4, 682.5, x + 4, 679, '#555', 0.9, 'panel-g-axis-break-mark');
  });
  gRefs.forEach((id, i) => refMarker(g, id, sx(gE[i]), sy(gFE[i]), 3.4, 'panel-g-point-' + id.toLowerCase()));
  star(g, sx(gOurE), sy(gOurFE), 9.8, 'panel-g-our-work-star');
  const colMarker = [377, 426, 474.3, 523.3, 572.3], colText = [387, 436, 484.7, 533.3, 582.3], rowY = [662.7, 672, 681, 690.3, 699.7];
  gLegendOrder.forEach((id, i) => {
    const c = i % 5, r = Math.floor(i / 5);
    refMarker(g, id, colMarker[c], rowY[r], 3.1, 'panel-g-legend-marker-' + id.toLowerCase());
    label(g, colText[c], rowY[r] + 2.6, refLabels[id], 'start', 7.4, '#333', 'panel-g-legend-label-' + id.toLowerCase());
  });
})();

/* ---------- panel h ---------- */
(function () {
  const g = mk(root, 'g', {}, 'panel-h');
  const f = {l: 680.7, r: 931.7, t: 516.7, b: 712.7};
  const sx = lin(0.2, -1.4, 680.7, 931.7), sy = lin(0, 8000, 701.7, 516.7);
  frame(g, f, 'panel-h-frame', '#555', 1.3);
  xTicks(g, f, sx, hTicksX, hTicksX.map(v => v.toFixed(1)), [0.1, -0.1, -0.3, -0.5, -0.7, -0.9, -1.1, -1.3], 727.3, 10.5, 'panel-h');
  yTicks(g, f, sy, hTicksY, hTicksY.map(String), [1000, 3000, 5000, 7000], 10.5, 'panel-h');
  hRefs.forEach((id, i) => refMarker(g, id, sx(hE[i]), sy(hRate[i]), 3.4, 'panel-h-point-' + id.toLowerCase()));
  star(g, sx(hOurE), sy(hOurRate), 9.8, 'panel-h-our-work-star');
  const rows = [632.3, 641.7, 651];
  hLegendOrder.forEach((id, i) => {
    refMarker(g, id, 702.7, rows[i], 3.1, 'panel-h-legend-marker-' + id.toLowerCase());
    label(g, 714, rows[i] + 2.6, refLabels[id], 'start', 7.4, '#333', 'panel-h-legend-label-' + id.toLowerCase());
  });
})();
</script>
</body>
</html>
